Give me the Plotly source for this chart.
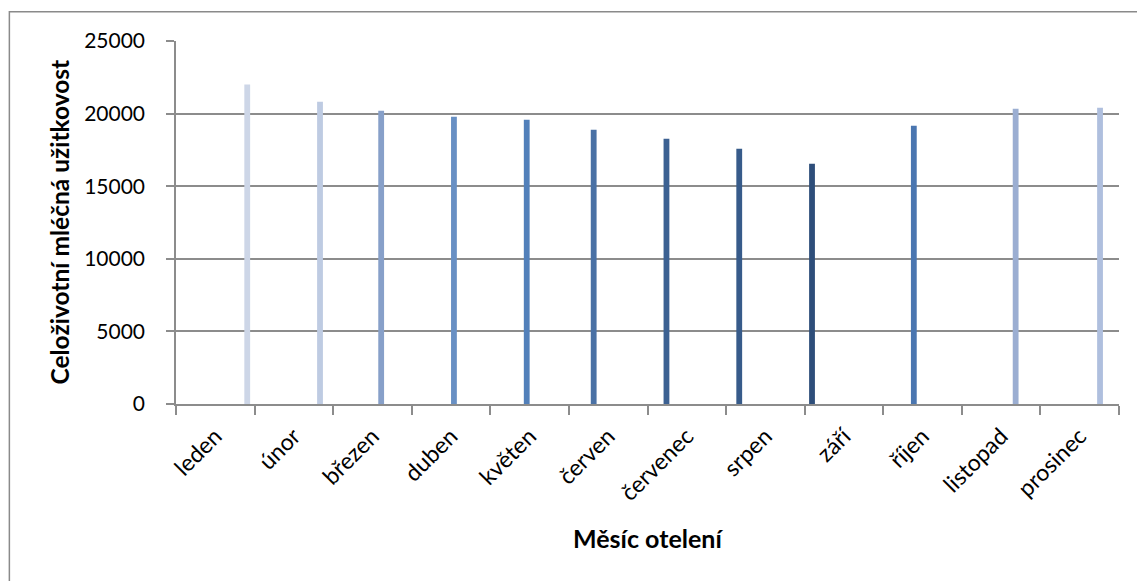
import plotly.graph_objects as go

# Lifetime milk yield by month of calving
months = ["leden", "únor", "březen", "duben", "květen", "červen",
          "červenec", "srpen", "září", "říjen", "listopad", "prosinec"]
yield_values = [22000, 20820, 20200, 19790, 19580, 18890,
                18270, 17580, 16550, 19170, 20340, 20400]
bar_colors = ["#CDD6E7", "#BECBE2", "#87A0C9", "#6890C4", "#5280BA", "#4A71A5",
              "#3C6192", "#375B8A", "#2E4E7A", "#4A76B0", "#9BAED2", "#AFBFDE"]
y_ticks = [0, 5000, 10000, 15000, 20000, 25000]

FONT = "Lato"
GRID = "#8C8C8C"

fig = go.Figure()

# one series per month, ordered from lowest to highest yield within each group
order = sorted(range(len(months)), key=lambda i: yield_values[i])
for slot, i in enumerate(order):
    fig.add_trace(go.Bar(
        x=[months[i]], y=[yield_values[i]], name=months[i],
        offsetgroup=str(slot),
        marker=dict(color=bar_colors[i], line=dict(width=0)),
        showlegend=False,
    ))

fig.update_layout(
    width=1137, height=581,
    margin=dict(l=176, r=18, t=41, b=177),
    paper_bgcolor="white", plot_bgcolor="white",
    barmode="group", bargap=0.113, bargroupgap=0,
    font=dict(family=FONT, size=23, color="black"),
    xaxis=dict(
        categoryorder="array", categoryarray=months,
        tickangle=-45, tickson="boundaries",
        ticks="outside", ticklen=9, tickcolor=GRID, tickwidth=1.5,
        showline=True, linecolor=GRID, linewidth=1.5,
        showgrid=False, automargin=False,
        ticklabelstandoff=8,
        tickfont=dict(family=FONT, size=23),
    ),
    yaxis=dict(
        range=[0, 25000], tickvals=y_ticks, tickformat="d",
        ticks="outside", ticklen=8, tickcolor=GRID, tickwidth=1.5,
        showline=True, linecolor=GRID, linewidth=1.5,
        showgrid=True, gridcolor=GRID, gridwidth=1.5,
        zeroline=False, automargin=False,
        ticklabelstandoff=17,
        tickfont=dict(family=FONT, size=21),
    ),
    shapes=[dict(
        type="rect", xref="paper", yref="paper",
        x0=-0.1767, x1=1.2, y0=-0.8, y1=1.0807,
        line=dict(color="#8A8A8A", width=1.5), fillcolor="rgba(0,0,0,0)",
        layer="below",
    )],
    annotations=[
        dict(text="<b>Měsíc otelení</b>", xref="paper", yref="paper",
             x=0.5, y=0, yshift=-134, showarrow=False,
             xanchor="center", yanchor="middle",
             font=dict(family=FONT, size=25)),
        dict(text="<b>Celoživotní mléčná užitkovost</b>", xref="paper", yref="paper",
             x=0, y=0.5, xshift=-117, textangle=-90, showarrow=False,
             xanchor="center", yanchor="middle",
             font=dict(family=FONT, size=24.5)),
    ],
)

fig.write_html("out.html")
